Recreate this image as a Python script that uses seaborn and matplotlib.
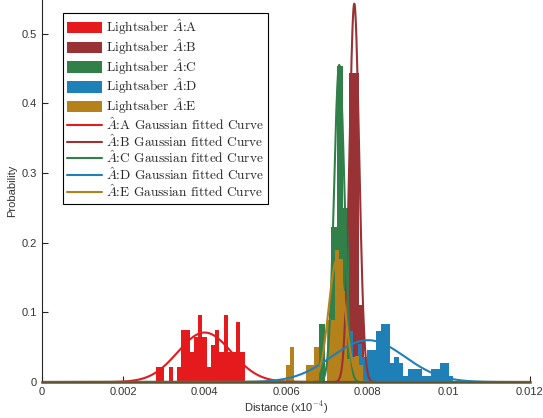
import numpy as np
import matplotlib
matplotlib.use('Agg')
import matplotlib.pyplot as plt
import seaborn as sns
from matplotlib.patches import Patch
from matplotlib.lines import Line2D

# probability histograms: left edge of first bin, bin width, probability per bin
a_start, a_width = 0.00280, 0.000104
a_prob = [0.0215, 0.0215, 0, 0.0215, 0, 0.0215, 0.0745, 0.0745, 0.043, 0.064,
          0.096, 0.064, 0.0215, 0.053, 0.0745, 0.043, 0.096, 0.043, 0.043, 0.086, 0.043]

b_start, b_width = 0.00754, 0.000128
b_prob = [0.444, 0.444, 0.110]

c_start, c_width = 0.00680, 0.000148
c_prob = [0.083, 0.0, 0.222, 0.454, 0.249]

d_start, d_width = 0.007095, 0.000112
d_prob = [0.036, 0.046, 0.064, 0.046, 0.073, 0.036, 0.055, 0.036,
          0.046, 0.046, 0.073, 0.083, 0.083, 0.027, 0.036, 0.027, 0.009,
          0.019, 0.019, 0.019, 0.009, 0.009, 0.019, 0.019, 0.027, 0.027, 0.009]

e_start, e_width = 0.0060, 0.0001
e_prob = [0.024, 0.050, 0, 0, 0, 0.024, 0.024, 0.050, 0, 0, 0.089, 0.089,
          0.189, 0.177, 0.130, 0.033, 0.036, 0.037, 0.024]

# gaussian fitted curves (A..E): mean, std, peak height
fit_mu = [0.00400, 0.00768, 0.00731, 0.00802, 0.00725]
fit_sigma = [0.00066, 0.00012, 0.000128, 0.0009, 0.0002]
fit_peak = [0.071, 0.543, 0.455, 0.060, 0.175]

bar_labels = [r'Lightsaber $\hat{A}$:A', r'Lightsaber $\hat{A}$:B', r'Lightsaber $\hat{A}$:C',
              r'Lightsaber $\hat{A}$:D', r'Lightsaber $\hat{A}$:E']
curve_labels = [r'$\hat{A}$:A Gaussian fitted Curve', r'$\hat{A}$:B Gaussian fitted Curve',
                r'$\hat{A}$:C Gaussian fitted Curve', r'$\hat{A}$:D Gaussian fitted Curve',
                r'$\hat{A}$:E Gaussian fitted Curve']

x_ticks = [0, 0.002, 0.004, 0.006, 0.008, 0.01, 0.012]
x_tick_labels = ['0', '0.002', '0.004', '0.006', '0.008', '0.01', '0.012']
y_ticks = [0, 0.1, 0.2, 0.3, 0.4, 0.5]
y_tick_labels = ['0', '0.1', '0.2', '0.3', '0.4', '0.5']

colors = ['#E41A1C', '#983234', '#31804A', '#1F80B8', '#B5811B']

sns.set_style('ticks')
plt.rcParams['font.family'] = ['Liberation Sans', 'DejaVu Sans']
plt.rcParams['mathtext.fontset'] = 'cm'

fig = plt.figure(figsize=(5.43, 4.18), dpi=100)
ax = fig.add_axes([0.0773, 0.0861, 0.8987, 0.917])


def draw_bars(start, width, prob, color):
    edges = start + width * np.arange(len(prob) + 1)
    centers = edges[:-1] + width / 2
    sns.histplot(x=centers, weights=prob, bins=edges.tolist(), color=color, alpha=1,
                 linewidth=0, ax=ax)


hists = {'A': (a_start, a_width, a_prob), 'B': (b_start, b_width, b_prob),
         'C': (c_start, c_width, c_prob), 'D': (d_start, d_width, d_prob),
         'E': (e_start, e_width, e_prob)}
col = dict(zip('ABCDE', colors))
for key in ['A', 'B', 'D', 'C', 'E']:
    s, w, p = hists[key]
    draw_bars(s, w, p, col[key])

# fitted curves on top of the bars
xs = np.linspace(0, 0.012, 1500)
for mu, sg, pk, c in zip(fit_mu, fit_sigma, fit_peak, colors):
    sns.lineplot(x=xs, y=pk * np.exp(-0.5 * ((xs - mu) / sg) ** 2), color=c,
                 linewidth=1.5, ax=ax)

ax.set_xlim(0, 0.012)
ax.set_ylim(0, 0.55)
ax.set_xticks(x_ticks, x_tick_labels)
ax.set_yticks(y_ticks, y_tick_labels)
ax.tick_params(direction='in', length=4, width=0.8, labelsize=8,
               labelcolor='#333333', pad=3.5)
sns.despine(ax=ax)
ax.spines['left'].set_linewidth(0.8)
ax.spines['bottom'].set_linewidth(1.8)
ax.spines['bottom'].set_color('#5b5631')

ax.set_xlabel(r'Distance (x10$^{-4}$)', fontsize=8, color='#333333', labelpad=2)
ax.set_ylabel('Probability', fontsize=8, color='#333333', labelpad=3)

handles = [Patch(facecolor=c, edgecolor='none') for c in colors] + \
          [Line2D([], [], color=c, lw=1.5) for c in colors]
leg = ax.legend(handles, bar_labels + curve_labels, loc='upper left',
                bbox_to_anchor=(0.043, 0.9625), borderaxespad=0, frameon=True,
                fancybox=False, edgecolor='black', framealpha=1,
                prop={'family': 'cmr10', 'size': 9.6}, handlelength=2.6,
                handleheight=0.95, handletextpad=0.3, labelspacing=0.0,
                borderpad=0.32)
leg.get_frame().set_linewidth(0.8)

plt.savefig('out.png', dpi=100)
